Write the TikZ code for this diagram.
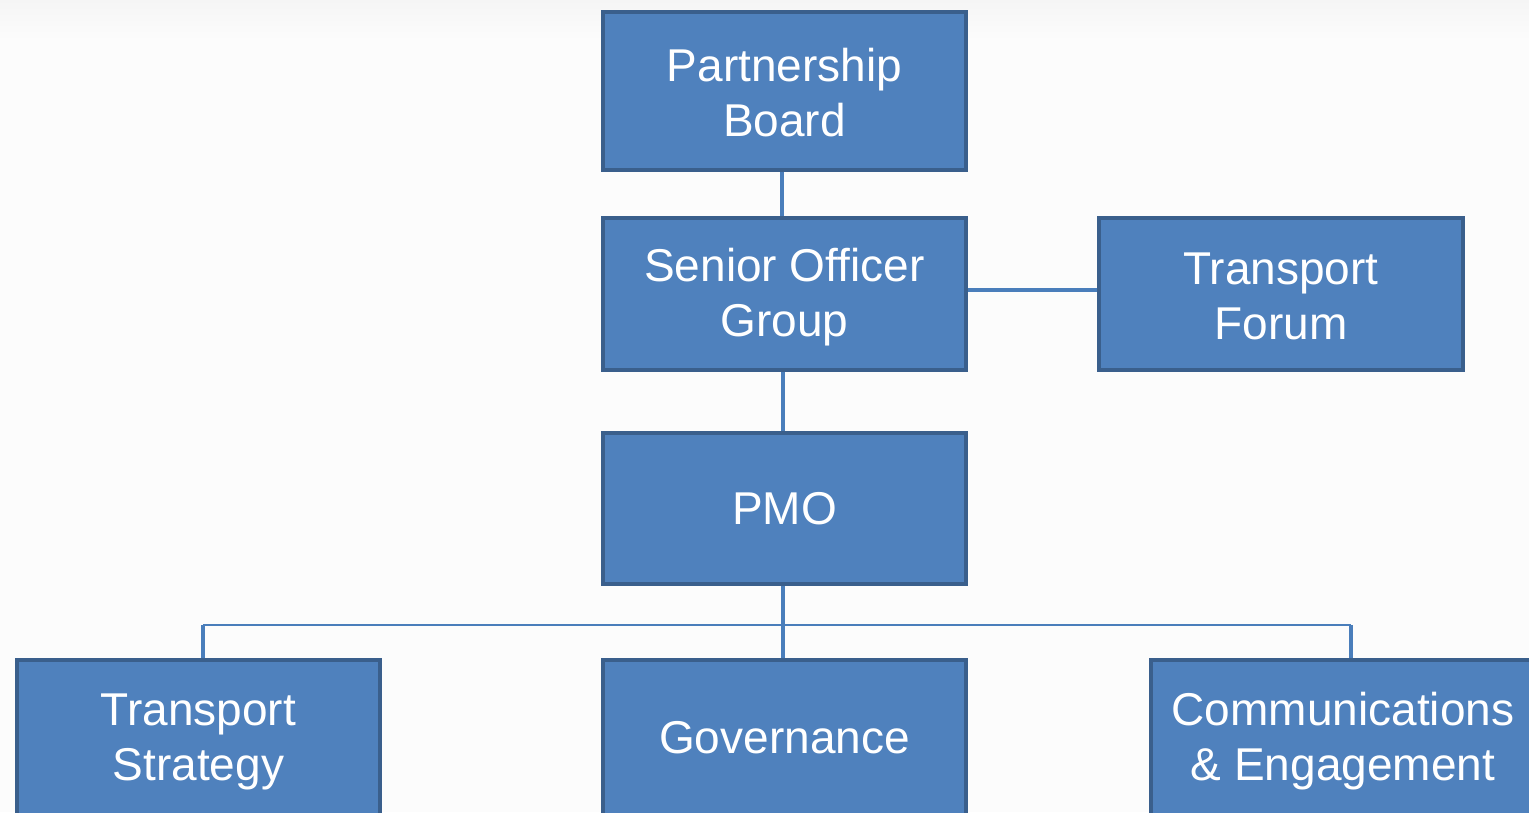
\documentclass[tikz,border=0pt]{standalone}
\usepackage{fontspec}
\setmainfont{Liberation Sans}
\pgfdeclarelayer{background}
\pgfdeclarelayer{back}
\pgfsetlayers{back,background,main}
\definecolor{boxfill}{HTML}{4F81BD}
\definecolor{boxline}{HTML}{3A5F8C}
\definecolor{conn}{HTML}{4A7EBB}
\definecolor{bgtop}{HTML}{F5F5F5}
\definecolor{bgmain}{HTML}{FCFCFC}
\newcommand{\orgtop}{\rule{0pt}{40pt}}
\newcommand{\orgbot}{\rule[-5pt]{0pt}{5pt}}
\tikzset{
  orgbox/.style={draw=boxline, fill=boxfill, line width=4pt, text=white,
    minimum width=363pt, align=center, inner sep=0pt,
    font=\fontsize{46}{55}\selectfont},
  link/.style={draw=conn, line width=3.5pt},
  bus/.style={draw=conn, line width=2.2pt}
}
\begin{document}
\begin{tikzpicture}[x=1pt,y=-1pt]
\useasboundingbox (0,0) rectangle (1529,812);
\clip (0,0) rectangle (1529,812);
\begin{pgfonlayer}{back}
  \fill[bgmain] (0,0) rectangle (1529,812);
  \shade[top color=bgtop, bottom color=bgmain] (0,0) rectangle (1529,40);
\end{pgfonlayer}

\node[orgbox, minimum height=158pt] (pb) at (784.5,91) {\orgtop Partnership\\Board\orgbot};
\node[orgbox, minimum height=152pt] (sog) at (784.5,294) {\orgtop Senior Officer\\Group\orgbot};
\node[orgbox, minimum height=152pt, minimum width=364pt] (tf) at (1281,294) {\orgtop Transport\\Forum\orgbot};
\node[orgbox, minimum height=151pt] (pmo) at (784.5,508.5) {PMO};
\node[orgbox, minimum height=155pt] (ts) at (198.5,737.5) {\orgtop Transport\\Strategy\orgbot};
\node[orgbox, minimum height=155pt] (gov) at (784.5,737.5) {Governance};
\node[orgbox, minimum height=155pt, minimum width=384pt] (ce) at (1343,737.5) {\orgtop Communications\\\& Engagement\orgbot};

\coordinate (busL) at (203,625);
\coordinate (busM) at (783,625);
\coordinate (busR) at (1351,625);

\begin{pgfonlayer}{background}
  \draw[link] (782,172) -- (782,216);
  \draw[link] ([yshift=4pt]sog.east) -- ([yshift=4pt]tf.west);
  \draw[link] (783,372) -- (783,431);
  \draw[link] (783,586) -- (busM);
  \draw[bus] (busL) -- (busR);
  \draw[link] (busL) -- (busL |- ts.north);
  \draw[link] (busM) -- (busM |- gov.north);
  \draw[link] (busR) -- (busR |- ce.north);
\end{pgfonlayer}
\end{tikzpicture}
\end{document}
